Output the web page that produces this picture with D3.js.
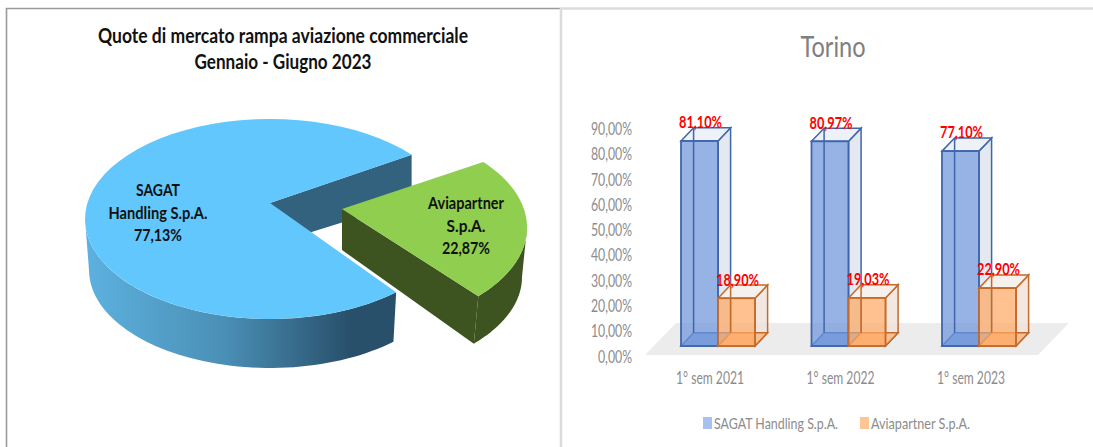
<!DOCTYPE html>
<html>
<head>
<meta charset="utf-8">
<script src="https://d3js.org/d3.v7.min.js"></script>
<style>
  html, body { margin: 0; padding: 0; background: #fff; }
  svg { display: block; }
  text { font-family: Lato, "Liberation Sans", sans-serif; }
</style>
</head>
<body>
<div id="chart"></div>
<script>
// left chart
var pieTitle = ["Quote di mercato rampa  aviazione commerciale", "Gennaio - Giugno 2023"];
var pieLabelLines = [["SAGAT", "Handling S.p.A.", "77,13%"], ["Aviapartner", "S.p.A.", "22,87%"]];
var pieValues = [77.13, 22.87];

// right chart
var barTitle = "Torino";
var semesters = ["1° sem 2021", "1° sem 2022", "1° sem 2023"];
var seriesNames = ["SAGAT Handling S.p.A.", "Aviapartner S.p.A."];
var sagatValues = [81.10, 80.97, 77.10];
var aviaValues = [18.90, 19.03, 22.90];
var axisTicks = [0, 10, 20, 30, 40, 50, 60, 70, 80, 90];

var width = 1093, height = 447;
var svg = d3.select("#chart").append("svg")
    .attr("width", width)
    .attr("height", height);

var it = d3.format(".2f");
function pct(v) { return it(v).replace(".", ",") + "%"; }

// the reference font is narrower than anything installed
function fit(sel, target) {
    sel.each(function () {
        this.setAttribute("textLength", target);
        this.setAttribute("lengthAdjust", "spacingAndGlyphs");
    });
}

// panel borders
svg.append("path").attr("d", "M6.5,447V8.5H560").attr("fill", "none").attr("stroke", "#9a9a9a").attr("stroke-width", 1.6);
svg.append("path").attr("d", "M561,447V8.5H1093").attr("fill", "none").attr("stroke", "#dcdcdc").attr("stroke-width", 2.6);

// ---- pie ----
var titleT = svg.append("g").selectAll("text")
    .data(pieTitle)
    .enter().append("text")
    .attr("x", 283)
    .attr("y", (d, i) => 43 + i * 26)
    .attr("text-anchor", "middle")
    .attr("font-size", 21)
    .attr("font-weight", "bold")
    .attr("fill", "#111")
    .text(d => d);
fit(d3.select(titleT.nodes()[0]), 370);
fit(d3.select(titleT.nodes()[1]), 177);

var defs = svg.append("defs");
var grad = defs.append("linearGradient").attr("id", "sideBlue");
grad.append("stop").attr("offset", "0%").attr("stop-color", "#5db1e0");
grad.append("stop").attr("offset", "45%").attr("stop-color", "#4a8fb5");
grad.append("stop").attr("offset", "85%").attr("stop-color", "#28506b");
grad.append("stop").attr("offset", "100%").attr("stop-color", "#28506b");

var rad = Math.PI / 180;
var pie = d3.pie().sort(null).startAngle(132.3 * rad).endAngle((360 + 132.3) * rad);
var arcs = pie(pieValues);

// flattened ellipse: rim point for a pie angle
function rim(a, c) { return [c.x + c.rx * Math.sin(a), c.y - c.ry * Math.cos(a)]; }
function arcPath(a0, a1, c) {
    var p = [], n = 60;
    for (var i = 0; i <= n; i++) p.push(rim(a0 + (a1 - a0) * i / n, c));
    return p;
}
var line = d3.line();

var blueTop = { x: 270, y: 219, rx: 185, ry: 100 };
var blueBot = { x: 270, y: 270, rx: 181, ry: 98 };
var blueApex = [270, 203];
var greenTop = { x: 340, y: 227.5, rx: 187, ry: 102 };
var greenBot = { x: 337, y: 277, rx: 185, ry: 99 };
var greenApex = [342, 209];
var greenApexBot = [342, 250];
var frontTrim = 4.7 * rad; // the near edge of the big slice stops short of the ellipse

var pieG = svg.append("g");
var b = arcs[0], g = arcs[1];
var blueFrom = b.startAngle + frontTrim;

// inner wall behind blue slice
var blueEnd = rim(b.endAngle, blueTop);
pieG.append("path")
    .attr("d", line([blueApex, blueEnd, [blueEnd[0], blueEnd[1] + 46], [270, 245]]) + "Z")
    .attr("fill", "#33627f");

// blue outer wall (front part only)
var frontEnd = 270 * rad;
var wall = arcPath(blueFrom, frontEnd, blueTop).concat(arcPath(frontEnd, blueFrom, blueBot));
pieG.append("path").attr("d", line(wall) + "Z").attr("fill", "url(#sideBlue)");

// blue top
pieG.append("path")
    .attr("d", line([blueApex].concat(arcPath(blueFrom, b.endAngle, blueTop))) + "Z")
    .attr("fill", "#61c7fd");

// green slice walls
var a90 = (360 + 90) * rad;
var gWall = arcPath(a90, g.endAngle, greenTop).concat(arcPath(g.endAngle, a90, greenBot));
pieG.append("path").attr("d", line(gWall) + "Z").attr("fill", "#3d5320");
var gTip = rim(g.endAngle, greenTop), gTipBot = rim(g.endAngle, greenBot);
pieG.append("path")
    .attr("d", line([greenApex, gTip, gTipBot, greenApexBot]) + "Z")
    .attr("fill", "#3d5320");

// green top
pieG.append("path")
    .attr("d", line([greenApex].concat(arcPath(g.startAngle, g.endAngle, greenTop))) + "Z")
    .attr("fill", "#8fce4f");

// slice labels
var labelPos = [[158, 196], [466, 209]];
var labelWidths = [[44, 99, 48], [76, 39, 48]];
pieLabelLines.forEach(function (lines, k) {
    svg.append("g").selectAll("text")
        .data(lines)
        .enter().append("text")
        .attr("x", labelPos[k][0])
        .attr("y", (d, i) => labelPos[k][1] + i * 22.5)
        .attr("text-anchor", "middle")
        .attr("font-size", 17.5)
        .attr("font-weight", "bold")
        .attr("fill", "#111")
        .text(d => d)
        .each(function (d, i) { fit(d3.select(this), labelWidths[k][i]); });
});

// ---- bars ----
var depthX = 12.6, depthY = -13.2;
var y = d3.scaleLinear().domain([0, 90]).range([346, 118.5]);
var x0 = d3.scaleBand().domain(semesters).range([615.5, 1007]).paddingInner(0);
var barW = 37;
var series = [
    { name: seriesNames[0], values: sagatValues, front: "#6f95dc", stroke: "#3f66ab", side: "#dfe4ee", top: "#eef1f6", bottom: "#7d9edc", swatch: "#a6c3f0" },
    { name: seriesNames[1], values: aviaValues, front: "#fda964", stroke: "#c46a2a", side: "#f0e4dc", top: "#f6f1ec", bottom: "#fbb47c", swatch: "#fdc594" }
];
function barLeft(d, k) { return x0(d) + 65.5 + k * barW; }

var titleR = svg.append("text")
    .attr("x", 833).attr("y", 57)
    .attr("text-anchor", "middle")
    .attr("font-size", 28)
    .attr("fill", "#7f7f7f")
    .text(barTitle);
fit(titleR, 65);

// floor
svg.append("path")
    .attr("d", line([[645, 355], [1038, 355], [1069, 323], [676, 323]]) + "Z")
    .attr("fill", "#ececec");

// axis
var axis = d3.axisLeft(y).tickValues(axisTicks).tickSize(0).tickPadding(0).tickFormat(d => it(d).replace(".", ",") + "%");
var axisG = svg.append("g").attr("transform", "translate(632,10.5)").call(axis);
axisG.select(".domain").remove();
axisG.selectAll("text")
    .attr("font-size", 17.5)
    .attr("font-family", "Lato, 'Liberation Sans', sans-serif")
    .attr("fill", "#8c8c8c")
    .each(function (d) { fit(d3.select(this), d === 0 ? 34 : 41); });

// category labels
var catT = svg.append("g").selectAll("text")
    .data(semesters)
    .enter().append("text")
    .attr("x", d => barLeft(d, 1) - 8)
    .attr("y", 384)
    .attr("text-anchor", "middle")
    .attr("font-size", 17.5)
    .attr("fill", "#8c8c8c")
    .text(d => d);
fit(catT, 68);

series.forEach(function (s, k) {
    var gs = svg.append("g").selectAll("g")
        .data(semesters)
        .enter().append("g");
    gs.each(function (d, i) {
        var sel = d3.select(this);
        var xl = barLeft(d, k), xr = xl + barW;
        var yt = y(s.values[i]), yb = y(0);
        var dx = depthX, dy = depthY;
        // faces
        sel.append("path").attr("d", line([[xr, yt], [xr + dx, yt + dy], [xr + dx, yb + dy], [xr, yb]]) + "Z")
            .attr("fill", s.side).attr("fill-opacity", 0.85).attr("stroke", s.stroke).attr("stroke-width", 1.5);
        sel.append("path").attr("d", line([[xl, yt], [xl + dx, yt + dy], [xr + dx, yt + dy], [xr, yt]]) + "Z")
            .attr("fill", s.top).attr("stroke", s.stroke).attr("stroke-width", 1.5);
        sel.append("path").attr("d", line([[xl, yb], [xl + dx, yb + dy], [xr + dx, yb + dy], [xr, yb]]) + "Z")
            .attr("fill", s.bottom).attr("fill-opacity", 0.8).attr("stroke", s.stroke).attr("stroke-width", 1.5);
        // front
        sel.append("rect")
            .attr("x", xl).attr("y", yt).attr("width", barW).attr("height", yb - yt)
            .attr("fill", s.front).attr("fill-opacity", 0.72)
            .attr("stroke", s.stroke).attr("stroke-width", 1.8);
        // back edge seen through the front
        sel.append("path").attr("d", line([[xl + dx, yt + dy], [xl + dx, yb + dy]]))
            .attr("fill", "none").attr("stroke", s.stroke).attr("stroke-width", 1.5);
    });
});

// value labels go above every bar
series.forEach(function (s, k) {
    var vt = svg.append("g").selectAll("text")
        .data(semesters)
        .enter().append("text")
        .attr("x", d => barLeft(d, k) + barW / 2 + 1)
        .attr("y", (d, i) => y(s.values[i]) + depthY + 0.5)
        .attr("text-anchor", "middle")
        .attr("font-size", 17)
        .attr("font-weight", "bold")
        .attr("fill", "#ff0000")
        .text((d, i) => pct(s.values[i]));
    fit(vt, 43);
});

// legend
var legendX = [703, 860], legendW = [124, 99];
series.forEach(function (s, k) {
    svg.append("rect")
        .attr("x", legendX[k]).attr("y", 417).attr("width", 9).attr("height", 12)
        .attr("fill", s.swatch);
    var lt = svg.append("text")
        .attr("x", legendX[k] + 11).attr("y", 429)
        .attr("font-size", 16)
        .attr("fill", "#8c8c8c")
        .text(s.name);
    fit(lt, legendW[k]);
});
</script>
</body>
</html>
